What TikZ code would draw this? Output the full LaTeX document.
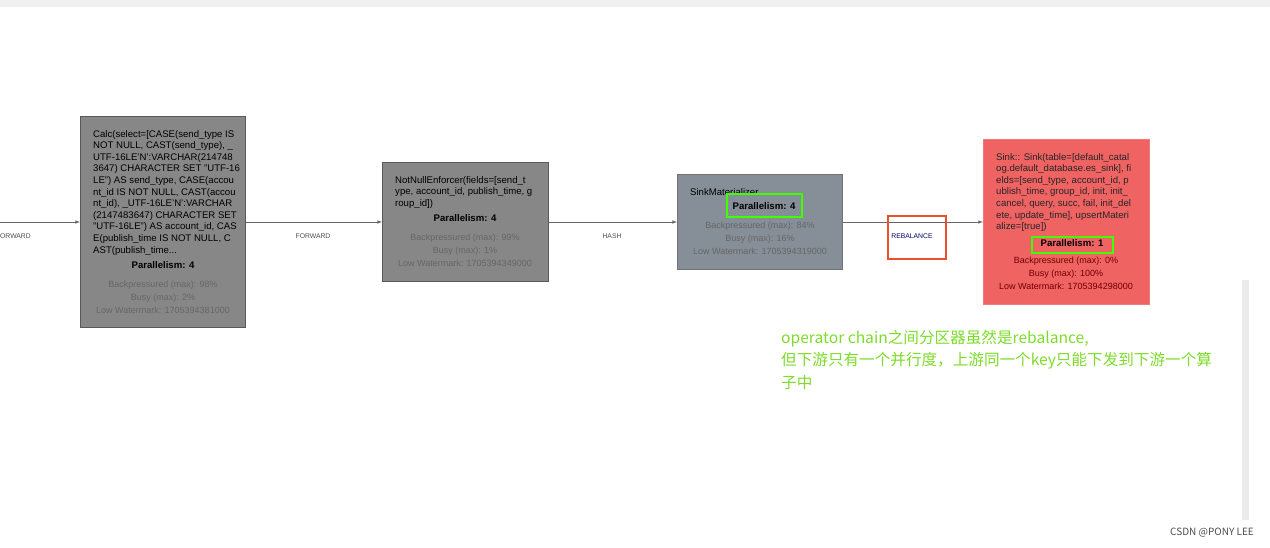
\documentclass[tikz,border=0pt]{standalone}
\usepackage{fontspec}
\setmainfont{Liberation Sans}
\newfontfamily\cjk{Noto Sans CJK SC}
\begin{document}
\begin{tikzpicture}[x=1pt,y=-1pt,
 txt/.style={font=\fontsize{9.6}{11.6}\selectfont,align=left,anchor=north west,inner sep=0pt},
 stat/.style={font=\fontsize{9}{13}\selectfont,align=center,anchor=north,inner sep=0pt,text=black!60},
 par/.style={font=\fontsize{9.6}{11}\selectfont\bfseries,anchor=north,inner sep=0pt},
 elab/.style={font=\fontsize{6.8}{8}\selectfont,text=black!70,inner sep=0pt},
 edge/.style={draw=black!60,line width=0.6pt,-latex},
 hl/.style={draw=green!75!yellow,line width=2pt},
 op/.style={minimum width=165pt,inner sep=0pt,anchor=north west,line width=0.8pt},
]
\useasboundingbox (0,0) rectangle (1270,548);
\fill[black!6] (0,0) rectangle (1270,7);
\fill[black!8] (1242,280) rectangle (1249,520);
% boxes
\node[op,draw=black!65,fill=black!47,minimum height=211pt] (calc) at (80,116) {};
\node[op,draw=black!65,fill=black!47,minimum width=166pt,minimum height=119pt] (nn) at (382,162) {};
\node[op,draw=black!55,fill={rgb,255:red,134;green,142;blue,152},minimum height=95pt] (sm) at (677,174) {};
\node[op,draw={rgb,255:red,240;green,120;blue,120},fill={rgb,255:red,239;green,99;blue,99},minimum width=166pt,minimum height=165pt] (sink) at (983,139) {};
% texts
\node[txt] (t1) at (93,130) {Calc(select=[CASE(send\_type IS\\NOT NULL, CAST(send\_type), \_\\UTF-16LE'N':VARCHAR(214748\\3647) CHARACTER SET "UTF-16\\LE") AS send\_type, CASE(accou\\nt\_id IS NOT NULL, CAST(accou\\nt\_id), \_UTF-16LE'N':VARCHAR\\(2147483647) CHARACTER SET\\"UTF-16LE") AS account\_id, CAS\\E(publish\_time IS NOT NULL, C\\AST(publish\_time...};
\node[par] (p1) at (163,261) {Parallelism: 4};
\node[stat] (s1) at (163,281) {Backpressured (max): 98\%\\Busy (max): 2\%\\Low Watermark: 1705394381000};
\node[txt] (t2) at (395,176) {NotNullEnforcer(fields=[send\_t\\ype, account\_id, publish\_time, g\\roup\_id])};
\node[par] (p2) at (465,214) {Parallelism: 4};
\node[stat] (s2) at (465,234) {Backpressured (max): 99\%\\Busy (max): 1\%\\Low Watermark: 1705394349000};
\node[txt] (t3) at (690,188) {SinkMaterializer};
\node[par] (p3) at (764,202) {Parallelism: 4};
\node[stat] (s3) at (760,222) {Backpressured (max): 84\%\\Busy (max): 16\%\\Low Watermark: 1705394319000};
\node[txt,text=black!85] (t4) at (996,153) {Sink:: Sink(table=[default\_catal\\og.default\_database.es\_sink], fi\\elds=[send\_type, account\_id, p\\ublish\_time, group\_id, init, init\_\\cancel, query, succ, fail, init\_del\\ete, update\_time], upsertMateri\\alize=[true])};
\node[par] (p4) at (1072,239) {Parallelism: 1};
\node[stat,text=black!55!red] (s4) at (1066,257) {Backpressured (max): 0\%\\Busy (max): 100\%\\Low Watermark: 1705394298000};
% edges
\coordinate (l0) at (0,222);
\draw[edge] (l0) -- (calc.west |- 0,222);
\draw[edge] (calc.east |- 0,222) -- (nn.west |- 0,222);
\draw[edge] (nn.east |- 0,222) -- (sm.west |- 0,222);
\draw[edge] (sm.east |- 0,222) -- (sink.west |- 0,222);
\node[elab,anchor=west] (e0) at (0,236) {ORWARD};
\node[elab] (e1) at (313,236) {FORWARD};
\node[elab] (e2) at (612,236) {HASH};
\node[elab,text=black!60!blue] (e3) at (912,236) {REBALANCE};
% highlights
\draw[hl] (727,194) rectangle (802,217);
\draw[hl] (1032,237) rectangle (1113,253);
\draw[draw={rgb,255:red,235;green,80;blue,40},line width=2pt] (888,216) rectangle (946,259);
\node[anchor=north west,align=left,inner sep=0pt,text={rgb,255:red,125;green,220;blue,40},font=\cjk\fontsize{15.6}{22.5}\selectfont] (note) at (781,330) {operator chain之间分区器虽然是rebalance,\\但下游只有一个并行度，上游同一个key只能下发到下游一个算\\子中};
\node[anchor=east,inner sep=0pt,text=black!70,font=\cjk\fontsize{10}{11}\selectfont] (wm) at (1254,533) {CSDN @PONY LEE};
\end{tikzpicture}
\end{document}
